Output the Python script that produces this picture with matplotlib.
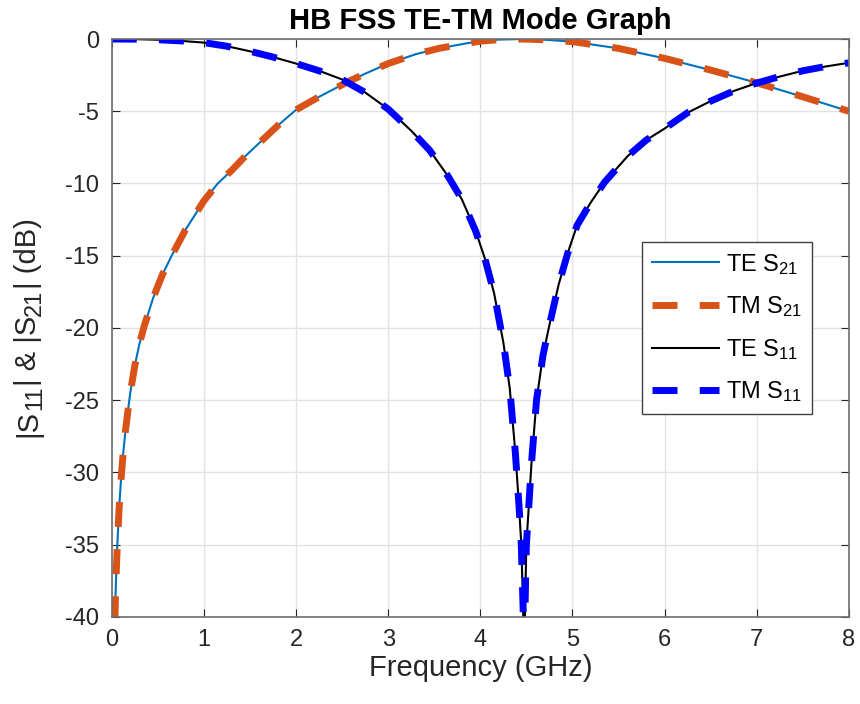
import numpy as np
import matplotlib
matplotlib.use('Agg')
import matplotlib.pyplot as plt

plt.rcParams['font.family'] = ['Liberation Sans', 'DejaVu Sans']
plt.rcParams['mathtext.fontset'] = 'custom'
plt.rcParams['mathtext.rm'] = 'Liberation Sans'
plt.rcParams['mathtext.default'] = 'regular'
plt.rcParams['axes.unicode_minus'] = False

# valores (GHz, dB)
freq_s21 = [0.033, 0.04, 0.05, 0.06, 0.08, 0.10, 0.12, 0.15, 0.20, 0.25, 0.30, 0.35,
            0.45, 0.55, 0.65, 0.80, 1.00, 1.15, 1.30, 1.45, 1.60, 1.80, 2.00, 2.25,
            2.55, 2.75, 3.00, 3.30, 3.55, 3.85, 4.00, 4.20, 4.45, 4.70, 5.00, 5.50,
            6.00, 6.50, 7.00, 7.50, 8.00]
te_s21 = [-40.3, -38.6, -36.6, -35.0, -32.4, -30.5, -28.9, -27.0, -24.5, -22.6, -21.1, -19.9,
          -17.9, -16.3, -15.0, -13.2, -11.2, -10.0, -9.1, -8.1, -7.2, -6.0, -4.9, -4.0,
          -3.0, -2.4, -1.7, -1.05, -0.65, -0.3, -0.15, -0.04, 0.0, -0.05, -0.18, -0.65,
          -1.34, -2.15, -3.03, -4.0, -5.0]
tm_s21 = list(te_s21)

freq_s11 = [0.0, 0.25, 0.5, 0.75, 1.0, 1.25, 1.5, 1.75, 2.0, 2.25, 2.5, 2.75, 3.0, 3.25,
            3.45, 3.65, 3.8, 3.95, 4.05, 4.15, 4.25, 4.32, 4.38, 4.42, 4.445, 4.465,
            4.475, 4.485, 4.50, 4.555, 4.61, 4.68, 4.75, 4.85, 4.95, 5.05, 5.2, 5.35,
            5.6, 5.8, 6.0, 6.25, 6.5, 6.75, 7.0, 7.25, 7.5, 7.75, 8.0]
te_s11 = [0.0, -0.01, -0.05, -0.13, -0.25, -0.5, -0.85, -1.25, -1.7, -2.2, -2.8, -3.7, -4.85, -6.35,
          -7.7, -9.5, -11.1, -13.3, -15.2, -17.6, -21.0, -24.2, -28.6, -32.3, -35.0, -39.5,
          -45.0, -39.5, -35.0, -29.4, -25.0, -21.9, -19.8, -17.0, -14.8, -12.9, -11.3, -9.9,
          -8.1, -7.0, -6.2, -5.1, -4.3, -3.6, -3.05, -2.6, -2.2, -1.9, -1.65]
tm_s11 = list(te_s11)

fig = plt.figure(figsize=(8.6, 7.04), dpi=100)
ax = fig.add_axes([0.130, 0.1236, 0.857, 0.821])

ax.plot(freq_s21, te_s21, color='#0072BD', lw=1.5, label='TE S$_{21}$')
ax.plot(freq_s21, tm_s21, color='#D95319', lw=5, dashes=(3.6, 3.2), label='TM S$_{21}$')
ax.plot(freq_s11, te_s11, color='black', lw=1.5, label='TE S$_{11}$')
ax.plot(freq_s11, tm_s11, color='#0000FF', lw=5, dashes=(3.6, 3.2), label='TM S$_{11}$')

ax.set_xlim(0, 8)
ax.set_ylim(-40, 0)
ax.set_xticks(np.arange(0, 9, 1))
ax.set_yticks(np.arange(-40, 1, 5))
ax.grid(True, color='#e3e3e3', lw=1)
ax.set_axisbelow(True)
ax.tick_params(direction='in', top=True, right=True, length=6, labelsize=17,
               colors='#262626', pad=9)
for s in ax.spines.values():
    s.set_color('#6e6e6e')
    s.set_linewidth(1.2)

ax.set_title('HB FSS TE-TM Mode Graph', fontsize=21, fontweight='bold', pad=7)
ax.set_xlabel('Frequency (GHz)', fontsize=21, color='#262626', labelpad=2)

# etiqueta y armada por trozos (subindices grandes como en matlab)
trozos = [('|S', 21, 0), ('11', 17, 1), ('| & |S', 21, 0), ('21', 17, 1), ('| (dB)', 21, 0)]
fig.canvas.draw()
rend = fig.canvas.get_renderer()
textos = []
largos = []
for txt, fs, sub in trozos:
    t = fig.text(0, 0, txt, fontsize=fs, rotation=90, rotation_mode='anchor',
                 ha='left', va='baseline', color='#262626')
    textos.append(t)
    largos.append(t.get_window_extent(rend).height)
total = sum(largos)
H = fig.bbox.height
W = fig.bbox.width
yc = (0.1236 + 0.821 / 2) * H
y = yc - total / 2
x_base = 36
for t, (txt, fs, sub), L in zip(textos, trozos, largos):
    t.set_position(((x_base + 5 * sub) / W, y / H))
    y += L

leg = ax.legend(loc='center left', bbox_to_anchor=(0.72, 0.5), borderaxespad=0,
                fontsize=17, handlelength=2.85, handletextpad=0.3, fancybox=False,
                framealpha=1, edgecolor='#404040', labelspacing=0.75, borderpad=0.4)
leg.get_frame().set_linewidth(1)

fig.savefig('out.png', dpi=100)
